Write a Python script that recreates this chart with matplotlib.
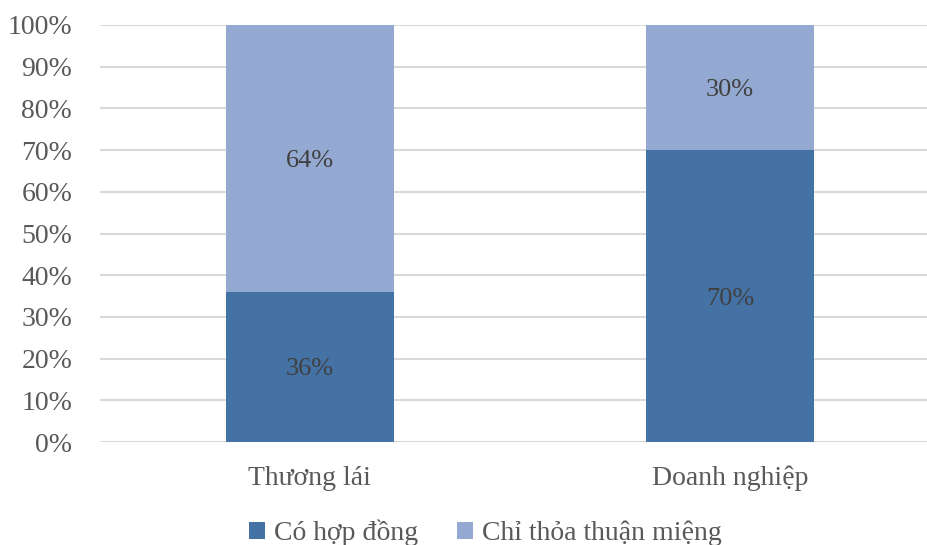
import matplotlib
matplotlib.use("Agg")
import matplotlib.pyplot as plt
from matplotlib.patches import Patch

categories = ["Thương lái", "Doanh nghiệp"]
co_hop_dong = [36, 70]
thoa_thuan_mieng = [64, 30]
series_names = ["Có hợp đồng", "Chỉ thỏa thuận miệng"]
yticks = [0, 10, 20, 30, 40, 50, 60, 70, 80, 90, 100]

plt.rcParams['font.family'] = ['Liberation Serif', 'DejaVu Serif']

dark = "#4472a5"
light = "#94a9d1"

fig = plt.figure(figsize=(9.27, 5.45), dpi=100)
ax = fig.add_axes([100 / 927, 103 / 545, 840 / 927, 417 / 545])

x = range(len(categories))
ax.bar(x, co_hop_dong, width=0.4, color=dark, zorder=3)
ax.bar(x, thoa_thuan_mieng, width=0.4, bottom=co_hop_dong, color=light, zorder=3)

# value labels in the middle of each segment
for i in x:
    ax.text(i, co_hop_dong[i] / 2, f"{co_hop_dong[i]}%", ha="center", va="center_baseline",
            fontsize=19, color="#404040", zorder=4)
    ax.text(i, co_hop_dong[i] + thoa_thuan_mieng[i] / 2, f"{thoa_thuan_mieng[i]}%",
            ha="center", va="center_baseline", fontsize=19, color="#404040", zorder=4)

ax.set_xlim(-0.5, 1.5)
ax.set_ylim(0, 100)
ax.set_yticks(yticks)
ax.set_yticklabels([f"{v}%" for v in yticks], fontsize=20, color="#595959")
ax.set_xticks(list(x))
ax.set_xticklabels(categories, fontsize=20, color="#595959")
ax.tick_params(axis="both", length=0)
ax.tick_params(axis="y", pad=20)
ax.tick_params(axis="x", pad=17)
ax.grid(axis="y", color="#d9d9d9", linewidth=1.5, zorder=0)
for s in ax.spines.values():
    s.set_visible(False)

handles = [Patch(facecolor=dark), Patch(facecolor=light)]
fig.legend(handles, series_names, loc="center", bbox_to_anchor=(485 / 927, 1 - 533 / 545),
           ncol=2, frameon=False, fontsize=20, labelcolor="#595959",
           handlelength=0.6, handleheight=0.6, handletextpad=0.3, columnspacing=1.4)

fig.savefig("out.png", dpi=100)
